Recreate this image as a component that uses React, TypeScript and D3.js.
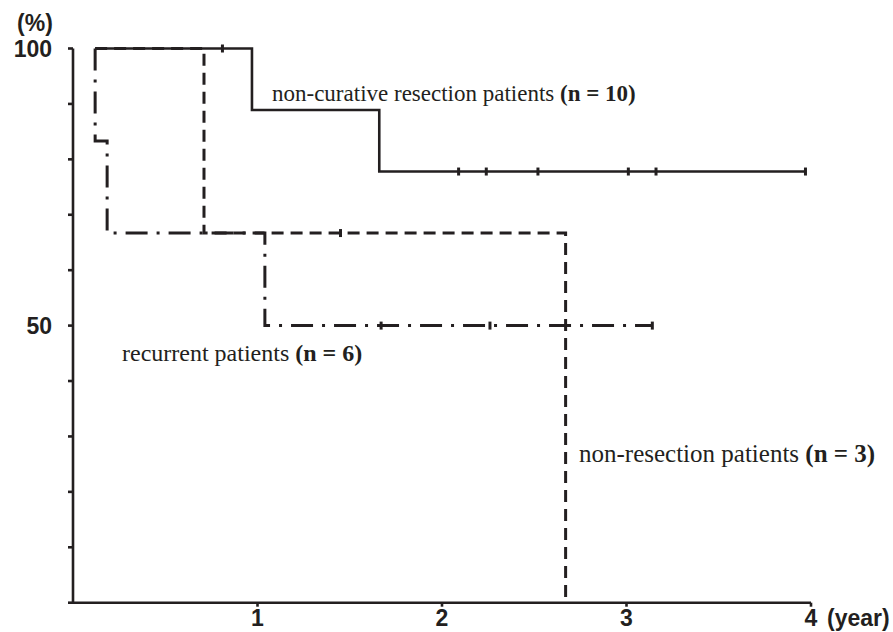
import { useEffect, useRef } from 'react';
import * as d3 from 'd3';

// Kaplan-Meier step data (time in years, survival in %)
const nonCurativeTimes = [0.12, 0.97, 1.66, 3.97];
const nonCurativeSurv = [100, 88.9, 77.8, 77.8];
const nonCurativeCensored = [0.81, 2.09, 2.24, 2.52, 3.01, 3.16, 3.97];

const recurrentTimes = [0.12, 0.12, 0.185, 1.04, 3.14];
const recurrentSurv = [100, 83.3, 66.7, 50, 50];
const recurrentCensored = [1.67, 2.26, 3.14];

const nonResectionTimes = [0.12, 0.71, 2.67];
const nonResectionSurv = [100, 66.7, 0];
const nonResectionCensored = [1.45];

const xTicks = [1, 2, 3, 4];
const yTicks = [0, 10, 20, 30, 40, 50, 60, 70, 80, 90, 100];
const yLabels = [50, 100];

const App = () => {
  const svgRef = useRef<SVGSVGElement>(null);

  useEffect(() => {
    const svg = d3.select(svgRef.current);
    svg.selectAll('*').remove();

    const x = d3.scaleLinear().domain([0, 4]).range([73, 811]);
    const y = d3.scaleLinear().domain([0, 100]).range([602.7, 48.5]);

    const line = d3.line<[number, number]>()
      .x(d => x(d[0]))
      .y(d => y(d[1]))
      .curve(d3.curveStepAfter);

    const series = [
      { times: nonCurativeTimes, surv: nonCurativeSurv, censored: nonCurativeCensored, dash: null, width: 2.6 },
      { times: recurrentTimes, surv: recurrentSurv, censored: recurrentCensored, dash: '22,9,3,9', width: 3 },
      { times: nonResectionTimes, surv: nonResectionSurv, censored: nonResectionCensored, dash: '12,7', width: 3 },
    ];

    // Axes
    const axis = svg.append('g').attr('stroke', '#231f20').attr('stroke-width', 2.6);
    axis.append('line')
      .attr('x1', x(0)).attr('x2', x(0))
      .attr('y1', y(100)).attr('y2', y(0));
    axis.append('line')
      .attr('x1', x(0)).attr('x2', x(4))
      .attr('y1', y(0)).attr('y2', y(0));
    axis.selectAll('.ytick')
      .data(yTicks)
      .enter()
      .append('line')
      .attr('x1', x(0) - 5).attr('x2', x(0))
      .attr('y1', d => y(d)).attr('y2', d => y(d));
    axis.selectAll('.xtick')
      .data(xTicks)
      .enter()
      .append('line')
      .attr('x1', d => x(d)).attr('x2', d => x(d))
      .attr('y1', y(0)).attr('y2', y(0) + 4);

    const labelFont = 'Liberation Sans, Arial, sans-serif';
    svg.selectAll('.ylabel')
      .data(yLabels)
      .enter()
      .append('text')
      .attr('x', 52)
      .attr('y', d => y(d) + 8.5)
      .attr('text-anchor', 'end')
      .style('font-family', labelFont)
      .style('font-weight', 'bold')
      .style('font-size', '23px')
      .attr('fill', '#231f20')
      .text(d => d);

    svg.selectAll('.xlabel')
      .data(xTicks)
      .enter()
      .append('text')
      .attr('x', d => x(d))
      .attr('y', 626)
      .attr('text-anchor', 'middle')
      .style('font-family', labelFont)
      .style('font-weight', 'bold')
      .style('font-size', '23px')
      .attr('fill', '#231f20')
      .text(d => d);

    svg.append('text')
      .attr('x', 35).attr('y', 31)
      .attr('text-anchor', 'middle')
      .style('font-family', labelFont)
      .style('font-weight', 'bold')
      .style('font-size', '23px')
      .attr('fill', '#231f20')
      .text('(%)');

    svg.append('text')
      .attr('x', 827).attr('y', 626)
      .style('font-family', labelFont)
      .style('font-weight', 'bold')
      .style('font-size', '23px')
      .attr('fill', '#231f20')
      .text('(year)');

    // Survival curves
    series.forEach(s => {
      const pts = s.times.map((t, i) => [t, s.surv[i]] as [number, number]);
      svg.append('path')
        .attr('d', line(pts))
        .attr('fill', 'none')
        .attr('stroke', '#231f20')
        .attr('stroke-width', s.width)
        .attr('stroke-dasharray', s.dash);

      // censor marks
      const survAt = (t: number) => {
        let v = s.surv[0];
        s.times.forEach((tt, i) => { if (tt <= t) v = s.surv[i]; });
        return v;
      };
      svg.selectAll(null)
        .data(s.censored)
        .enter()
        .append('line')
        .attr('x1', d => x(d)).attr('x2', d => x(d))
        .attr('y1', d => y(survAt(d)) - 4)
        .attr('y2', d => y(survAt(d)) + 4)
        .attr('stroke', '#231f20')
        .attr('stroke-width', 3);
    });

    // Curve labels
    const curveLabels = [
      { text: 'non-curative resection patients ', n: '(n = 10)', x: 272, y: 101, size: 23 },
      { text: 'recurrent patients ', n: '(n = 6)', x: 122, y: 361, size: 24 },
      { text: 'non-resection patients ', n: '(n = 3)', x: 579, y: 462, size: 25 },
    ];
    curveLabels.forEach(l => {
      const t = svg.append('text')
        .attr('x', l.x).attr('y', l.y)
        .style('font-family', 'Liberation Serif, Times New Roman, serif')
        .style('font-size', `${l.size}px`)
        .attr('fill', '#231f20');
      t.append('tspan').text(l.text);
      t.append('tspan').style('font-weight', 'bold').text(l.n);
    });
  }, []);

  return (
    <svg
      ref={svgRef}
      width={893}
      height={632}
      style={{ position: 'absolute', left: 0, top: 0, background: '#fff' }}
    />
  );
};

export default App;
